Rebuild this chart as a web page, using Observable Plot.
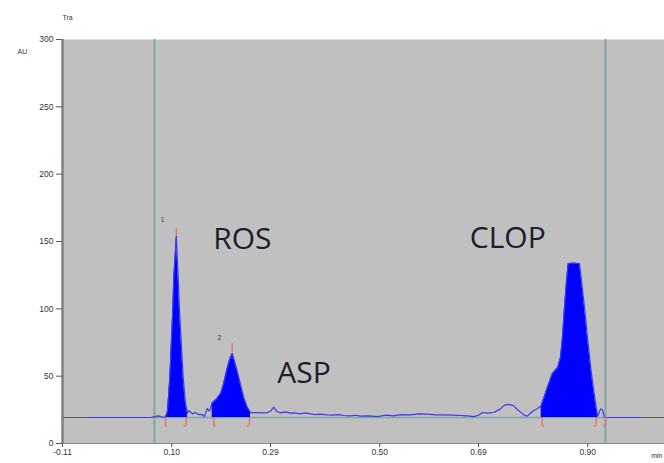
<!DOCTYPE html>
<html><head><meta charset="utf-8">
<script src="https://cdn.jsdelivr.net/npm/d3@7"></script>
<script src="https://cdn.jsdelivr.net/npm/@observablehq/plot@0.6"></script>
<style>body{margin:0;background:#fff;overflow:hidden}</style>
</head><body><div id="chart"></div>
<script>
// Axis ticks
const xTicks = [-0.11, 0.10, 0.29, 0.50, 0.69, 0.90];
const yTicks = [0, 50, 100, 150, 200, 250, 300];
const baselineAU = 19.3;
const windowLines = [0.0669, 0.9342];

// Chromatogram trace (time, AU)
const traceTime = [
  -0.0600, 0.0592, 0.0746, 0.0804, 0.0881, 0.0919, 0.0964, 0.1021, 0.1040, 0.1089,
  0.1125, 0.1150, 0.1221, 0.1265, 0.1304, 0.1329, 0.1400, 0.1458, 0.1516, 0.1586,
  0.1631, 0.1683, 0.1727, 0.1779, 0.1804, 0.1862, 0.1939, 0.1996, 0.2068, 0.2112,
  0.2164, 0.2208, 0.2259, 0.2323, 0.2387, 0.2452, 0.2516, 0.2612, 0.2708, 0.2837,
  0.2900, 0.2964, 0.3015, 0.3092, 0.3189, 0.3285, 0.3348, 0.3477, 0.3573, 0.3669,
  0.3765, 0.3862, 0.3990, 0.4092, 0.4208, 0.4304, 0.4438, 0.4535, 0.4631, 0.4784,
  0.4952, 0.5111, 0.5272, 0.5400, 0.5593, 0.5746, 0.5914, 0.6073, 0.6232, 0.6400,
  0.6554, 0.6689, 0.6810, 0.6900, 0.6977, 0.7073, 0.7194, 0.7323, 0.7400, 0.7477,
  0.7579, 0.7650, 0.7708, 0.7784, 0.7837, 0.7901, 0.7964, 0.8035, 0.8105, 0.8202,
  0.8317, 0.8425, 0.8477, 0.8510, 0.8554, 0.8593, 0.8625, 0.8727, 0.8842, 0.8881,
  0.8939, 0.9002, 0.9073, 0.9118, 0.9164, 0.9194, 0.9247, 0.9285, 0.9323, 0.9343,
  1.0016
];
const traceAU = [
  19.3, 19.3, 20.5, 19.8, 19.5, 24, 49, 99, 123, 154,
  123, 99, 49, 30, 22.5, 24.5, 22, 23, 21.5, 21.5,
  20, 26, 24, 30, 31, 33, 37, 44, 56, 62,
  67, 61, 54, 44, 34, 27, 23, 23, 22.7, 23,
  24, 27, 24, 22.7, 23.5, 22.5, 22.7, 22, 22.8, 22,
  21.5, 21.8, 21.3, 21, 21.5, 20.8, 20.5, 21, 20.3, 20.5,
  20, 21, 20.5, 21.5, 21.3, 22, 21.8, 21.3, 21.3, 21,
  20.8, 20.5, 20, 21, 23, 22.5, 23, 25.7, 28.5, 29,
  28, 25, 23.3, 21, 20.3, 22.5, 24.5, 26, 28, 39,
  51.7, 56.6, 64, 76.5, 101, 121, 133.5, 134, 133.5, 121,
  101, 76.5, 51.7, 39, 26.5, 20.3, 25.7, 25, 19.5, 19.3,
  19.3
];

// Peaks
const peakNames = ["ROS", "ASP", "CLOP"];
const peakStart = [0.0881, 0.1779, 0.8105];
const peakEnd = [0.1304, 0.2516, 0.9194];
const peakLabelT = [0.1798, 0.3029, 0.6733];
const peakLabelAU = [144.6, 44.8, 145.0];

const peakNumbers = ["1", "2"];
const peakNumberT = [0.0823, 0.1919];
const peakNumberAU = [166.3, 78.7];

const apexT = [0.1089, 0.2164];
const apexLow = [153.7, 67.6];
const apexHigh = [159.6, 74.3];

const bracketT = [0.0881, 0.1279, 0.1810, 0.2496, 0.8125, 0.9163, 0.9342];
const bracketSide = [1, -1, 1, -1, 1, -1, -1];
const bracketLowAU = 13.0;

// Build tables
const trace = traceTime.map((t, i) => ({t, v: traceAU[i]}));
const fillData = [];
peakNames.forEach((name, k) => {
  trace.forEach(d => { if (d.t >= peakStart[k] && d.t <= peakEnd[k]) fillData.push({...d, peak: name}); });
});
const labels = peakNames.map((name, i) => ({name, t: peakLabelT[i], v: peakLabelAU[i]}));
const numbers = peakNumbers.map((n, i) => ({n, t: peakNumberT[i], v: peakNumberAU[i]}));
const apex = apexT.map((t, i) => ({t, lo: apexLow[i], hi: apexHigh[i]}));
const brackets = bracketT.map((t, i) => ({t, t2: t + bracketSide[i] * 0.004}));

const teal = "#7fa5a5";
const chart = Plot.plot({
  width: 664, height: 463,
  marginLeft: 62, marginRight: 0, marginTop: 39, marginBottom: 20,
  style: {background: "#fff", fontFamily: "'Liberation Sans', Arial, sans-serif", fontSize: "8.5px", color: "#333"},
  x: {domain: [-0.11, 1.0477], label: null},
  y: {domain: [0, 300], label: null},
  marks: [
    Plot.frame({fill: "#c0c0c0", stroke: null}),
    Plot.ruleY([baselineAU], {stroke: "#555", strokeWidth: 1}),
    Plot.ruleY([baselineAU], {x1: windowLines[0], x2: windowLines[1], stroke: teal, strokeWidth: 1.5}),
    Plot.ruleX(windowLines, {stroke: teal, strokeWidth: 2}),
    Plot.areaY(fillData, {x: "t", y1: baselineAU, y2: "v", z: "peak", fill: "#0000ff", curve: "linear"}),
    Plot.line(trace, {x: "t", y: "v", stroke: "#3a3af5", strokeWidth: 1.2}),
    Plot.ruleX(brackets, {x: "t", y1: bracketLowAU, y2: baselineAU, stroke: "#f06a6a", strokeWidth: 1.4}),
    Plot.ruleY(brackets, {x1: "t", x2: "t2", y: bracketLowAU, stroke: "#f06a6a", strokeWidth: 1.4}),
    Plot.ruleX(apex, {x: "t", y1: "lo", y2: "hi", stroke: "#f06a6a", strokeWidth: 1.3}),
    Plot.text(numbers, {x: "t", y: "v", text: "n", fontSize: 7, fill: "#444"}),
    Plot.text(labels, {x: "t", y: "v", text: "name", textAnchor: "start", lineAnchor: "bottom",
      fontFamily: "'Open Sans', sans-serif", fontSize: 30, fill: "#1c1c2a"}),
    Plot.ruleX([xTicks[0]], {stroke: "#808080", strokeWidth: 2.5}),
    Plot.ruleY([0], {stroke: "#8a8a8a", strokeWidth: 1}),
    Plot.axisX(xTicks, {tickSize: 4, tickPadding: 1, tickFormat: d => d.toFixed(2), fontSize: 8.5, stroke: "#555", fill: "#333"}),
    Plot.axisY(yTicks, {tickSize: 6, tickPadding: 3, fontSize: 8.5, stroke: "#555", fill: "#333"}),
    Plot.text(["AU"], {frameAnchor: "top-left", dx: -45, dy: 10, fontSize: 7, fill: "#333"}),
    Plot.text(["Tra"], {frameAnchor: "top-left", textAnchor: "start", dx: 0, dy: -24, fontSize: 7, fill: "#333"}),
    Plot.text(["min"], {frameAnchor: "bottom-right", textAnchor: "end", dx: -2, dy: 14, fontSize: 7, fill: "#333"})
  ]
});
document.getElementById("chart").appendChild(chart);
</script>
</body></html>
